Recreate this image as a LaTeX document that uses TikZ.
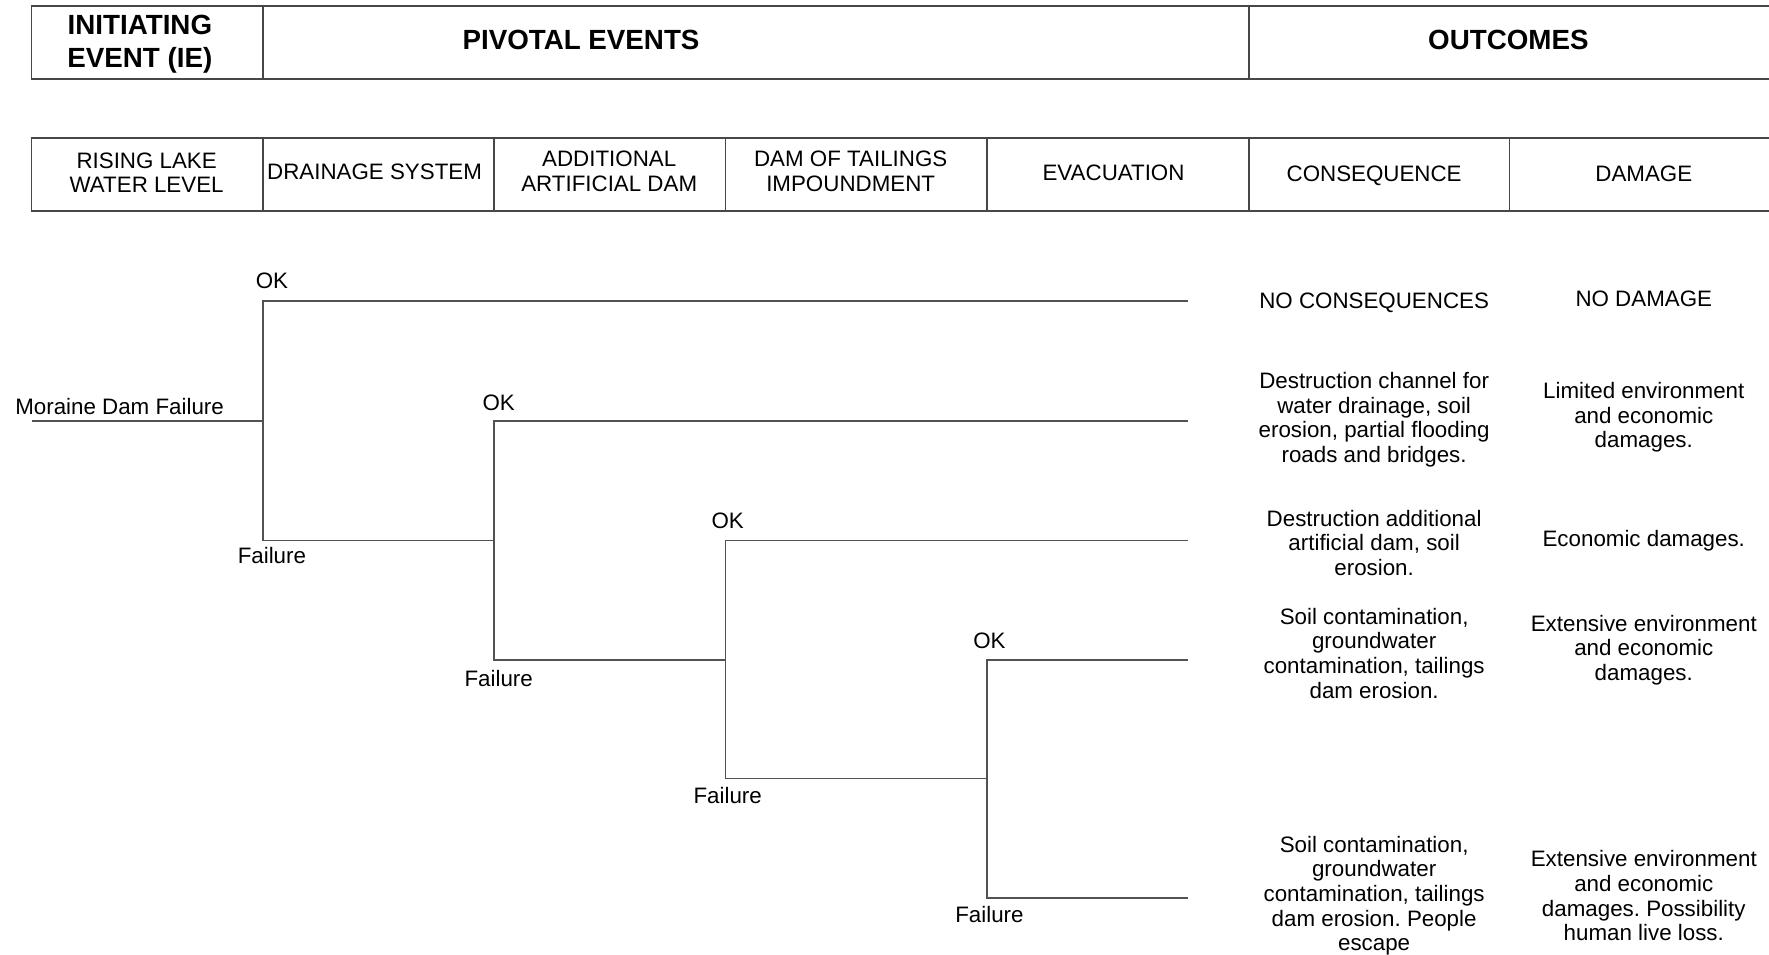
\documentclass[tikz,border=0pt]{standalone}
\usepackage{fontspec}
\setmainfont{Liberation Sans}
\frenchspacing
\begin{document}
\begin{tikzpicture}[x=0.5pt,y=-0.5pt,
  rule/.style={draw=black!72, line width=0.8pt},
  branch/.style={draw=black!68, line width=0.8pt},
  hd/.style={font=\fontsize{12.3}{14.8}\selectfont\bfseries, align=center, inner sep=0pt},
  col/.style={font=\fontsize{9.9}{11}\selectfont, align=center, inner sep=0pt},
  lbl/.style={font=\fontsize{9.9}{11}\selectfont, inner sep=0pt},
  outc/.style={font=\fontsize{9.9}{10.9}\selectfont, align=center, inner sep=0pt}]
\useasboundingbox (0,0) rectangle (1568,846);

% ---- upper header row
\draw[rule] (28,5) rectangle (1580,70);
\draw[rule] (233,5) -- (233,70);
\draw[rule] (1107,5) -- (1107,70);
\node[hd] (ie)  at (124,39) {INITIATING\\EVENT (IE)};
\node[hd] (piv) at (515,35) {PIVOTAL EVENTS};
\node[hd] (out) at (1337,35) {OUTCOMES};

% ---- lower header row
\draw[rule] (28,122) rectangle (1580,187);
\foreach \cx in {233,438,643,875,1107,1338}
  \draw[rule] (\cx,122) -- (\cx,187);
\node[col] (c1) at (130,153) {RISING LAKE\\WATER LEVEL};
\node[col] (c2) at (332,152) {DRAINAGE SYSTEM};
\node[col] (c3) at (540,152) {ADDITIONAL\\ARTIFICIAL DAM};
\node[col] (c4) at (754,152) {DAM OF TAILINGS\\IMPOUNDMENT};
\node[col] (c5) at (987,153) {EVACUATION};
\node[col] (c6) at (1218,156) {CONSEQUENCE};
\node[col] (c7) at (1457,154) {DAMAGE};

% ---- event tree branch points
\coordinate (start) at (28,373);
\coordinate (n1)   at (233,373);
\coordinate (n1ok) at (233,267);
\coordinate (n1f)  at (233,479);
\coordinate (n2)   at (438,479);
\coordinate (n2ok) at (438,373);
\coordinate (n2f)  at (438,585);
\coordinate (n3)   at (643,585);
\coordinate (n3ok) at (643,479);
\coordinate (n3f)  at (643,690);
\coordinate (n4)   at (875,690);
\coordinate (n4ok) at (875,585);
\coordinate (n4f)  at (875,796);
\coordinate (e1) at (1053,267);
\coordinate (e2) at (1053,373);
\coordinate (e3) at (1053,479);
\coordinate (e4) at (1053,585);
\coordinate (e5) at (1053,796);

\draw[branch] (start) -- (n1);
\draw[branch] (n1) -- (n1ok) -- (e1);
\draw[branch] (n1) -- (n1f) -- (n2);
\draw[branch] (n2) -- (n2ok) -- (e2);
\draw[branch] (n2) -- (n2f) -- (n3);
\draw[branch] (n3) -- (n3ok) -- (e3);
\draw[branch] (n3) -- (n3f) -- (n4);
\draw[branch] (n4) -- (n4ok) -- (e4);
\draw[branch] (n4) -- (n4f) -- (e5);

% ---- branch labels
\node[lbl] (init) at (106,360) {Moraine Dam Failure};
\node[lbl] (ok1) at (241,249) {OK};
\node[lbl] (f1)  at (241,492) {Failure};
\node[lbl] (ok2) at (442,357) {OK};
\node[lbl] (f2)  at (442,601) {Failure};
\node[lbl] (ok3) at (645,462) {OK};
\node[lbl] (f3)  at (645,705) {Failure};
\node[lbl] (ok4) at (877,568) {OK};
\node[lbl] (f4)  at (877,811) {Failure};

% ---- outcomes: consequence column
\node[outc] (q1) at (1218,268) {NO CONSEQUENCES};
\node[outc] (q2) at (1218,372) {Destruction channel for\\water drainage, soil\\erosion, partial flooding\\roads and bridges.};
\node[outc] (q3) at (1218,481) {Destruction additional\\artificial dam, soil\\erosion.};
\node[outc] (q4) at (1218,579) {Soil contamination,\\groundwater\\contamination, tailings\\dam erosion.};
\node[outc] (q5) at (1218,794) {Soil contamination,\\groundwater\\contamination, tailings\\dam erosion. People\\escape};

% ---- outcomes: damage column
\node[outc] (d1) at (1457,265) {NO DAMAGE};
\node[outc] (d2) at (1457,370) {Limited environment\\and economic\\damages.};
\node[outc] (d3) at (1457,479) {Economic damages.};
\node[outc] (d4) at (1457,576) {Extensive environment\\and economic\\damages.};
\node[outc] (d5) at (1457,794) {Extensive environment\\and economic\\damages. Possibility\\human live loss.};
\end{tikzpicture}
\end{document}
